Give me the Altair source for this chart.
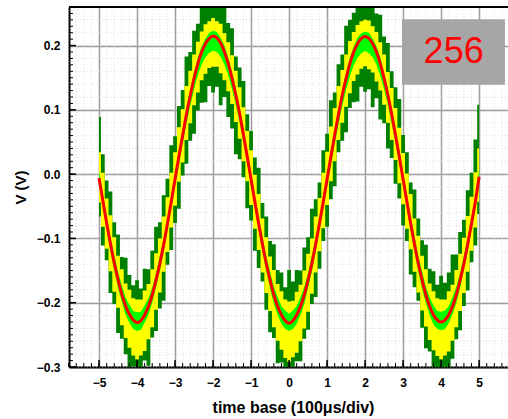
import altair as alt
import pandas as pd

# time axis (divisions), sampled every 0.1 div
TIME = [-5.0, -4.9, -4.8, -4.7, -4.6, -4.5, -4.4, -4.3, -4.2, -4.1,
        -4.0, -3.9, -3.8, -3.7, -3.6, -3.5, -3.4, -3.3, -3.2, -3.1,
        -3.0, -2.9, -2.8, -2.7, -2.6, -2.5, -2.4, -2.3, -2.2, -2.1,
        -2.0, -1.9, -1.8, -1.7, -1.6, -1.5, -1.4, -1.3, -1.2, -1.1,
        -1.0, -0.9, -0.8, -0.7, -0.6, -0.5, -0.4, -0.3, -0.2, -0.1,
        0.0, 0.1, 0.2, 0.3, 0.4, 0.5, 0.6, 0.7, 0.8, 0.9,
        1.0, 1.1, 1.2, 1.3, 1.4, 1.5, 1.6, 1.7, 1.8, 1.9,
        2.0, 2.1, 2.2, 2.3, 2.4, 2.5, 2.6, 2.7, 2.8, 2.9,
        3.0, 3.1, 3.2, 3.3, 3.4, 3.5, 3.6, 3.7, 3.8, 3.9,
        4.0, 4.1, 4.2, 4.3, 4.4, 4.5, 4.6, 4.7, 4.8, 4.9,
        5.0]

# averaged trace (red), V
CENTER = [-0.006, -0.041, -0.076, -0.108, -0.138, -0.164, -0.187, -0.205, -0.218, -0.227,
          -0.231, -0.228, -0.219, -0.206, -0.188, -0.165, -0.139, -0.110, -0.077, -0.043,
          -0.008, 0.027, 0.060, 0.093, 0.122, 0.149, 0.172, 0.190, 0.203, 0.211,
          0.215, 0.212, 0.204, 0.190, 0.172, 0.149, 0.123, 0.094, 0.061, 0.027,
          -0.008, -0.043, -0.077, -0.109, -0.139, -0.165, -0.188, -0.206, -0.219, -0.228,
          -0.232, -0.228, -0.219, -0.206, -0.188, -0.165, -0.139, -0.109, -0.077, -0.043,
          -0.008, 0.027, 0.061, 0.093, 0.123, 0.149, 0.172, 0.190, 0.203, 0.211,
          0.214, 0.211, 0.203, 0.190, 0.172, 0.149, 0.123, 0.093, 0.061, 0.027,
          -0.008, -0.043, -0.077, -0.109, -0.139, -0.165, -0.188, -0.206, -0.219, -0.227,
          -0.230, -0.227, -0.219, -0.206, -0.188, -0.165, -0.139, -0.109, -0.077, -0.043,
          -0.004]

# envelope widths read relative to the red trace (V)
GREEN_UP = [0.011, 0.010, 0.012, 0.011, 0.013, 0.012, 0.014, 0.013, 0.015, 0.014,
            0.016, 0.014, 0.015, 0.013, 0.012, 0.011, 0.012, 0.010, 0.011, 0.010,
            0.011, 0.010, 0.009, 0.011, 0.010, 0.009, 0.010, 0.009, 0.008, 0.009,
            0.008, 0.009, 0.008, 0.010, 0.009, 0.010, 0.011, 0.010, 0.011, 0.010,
            0.012, 0.011, 0.012, 0.013, 0.012, 0.014, 0.013, 0.015, 0.014, 0.016,
            0.015, 0.016, 0.014, 0.015, 0.013, 0.012, 0.013, 0.011, 0.012, 0.010,
            0.011, 0.010, 0.011, 0.009, 0.010, 0.009, 0.010, 0.008, 0.009, 0.008,
            0.008, 0.009, 0.008, 0.009, 0.010, 0.009, 0.011, 0.010, 0.011, 0.012,
            0.011, 0.012, 0.011, 0.013, 0.012, 0.014, 0.013, 0.014, 0.015, 0.014,
            0.016, 0.015, 0.014, 0.015, 0.013, 0.012, 0.013, 0.011, 0.012, 0.010,
            0.011]
GREEN_DN = [0.011, 0.012, 0.011, 0.013, 0.012, 0.013, 0.012, 0.014, 0.013, 0.014,
            0.013, 0.014, 0.012, 0.013, 0.012, 0.011, 0.012, 0.011, 0.012, 0.013,
            0.012, 0.014, 0.013, 0.015, 0.016, 0.017, 0.018, 0.020, 0.021, 0.022,
            0.023, 0.022, 0.021, 0.020, 0.018, 0.017, 0.016, 0.014, 0.013, 0.012,
            0.012, 0.011, 0.012, 0.013, 0.012, 0.013, 0.014, 0.013, 0.014, 0.013,
            0.012, 0.013, 0.014, 0.013, 0.014, 0.012, 0.013, 0.012, 0.011, 0.012,
            0.013, 0.014, 0.015, 0.016, 0.017, 0.018, 0.020, 0.021, 0.022, 0.023,
            0.022, 0.023, 0.021, 0.020, 0.019, 0.017, 0.016, 0.015, 0.013, 0.012,
            0.011, 0.012, 0.013, 0.012, 0.013, 0.014, 0.013, 0.014, 0.015, 0.014,
            0.013, 0.014, 0.013, 0.012, 0.013, 0.012, 0.011, 0.012, 0.011, 0.012,
            0.011]
YELLOW_UP = [0.040, 0.043, 0.038, 0.044, 0.040, 0.037, 0.039, 0.035, 0.038, 0.034,
             0.036, 0.033, 0.038, 0.035, 0.040, 0.042, 0.039, 0.044, 0.041, 0.045,
             0.042, 0.046, 0.041, 0.044, 0.039, 0.037, 0.034, 0.032, 0.030, 0.027,
             0.028, 0.026, 0.030, 0.029, 0.033, 0.036, 0.038, 0.041, 0.043, 0.040,
             0.045, 0.042, 0.046, 0.040, 0.041, 0.037, 0.039, 0.035, 0.037, 0.033,
             0.034, 0.031, 0.036, 0.034, 0.038, 0.041, 0.039, 0.043, 0.040, 0.045,
             0.043, 0.047, 0.042, 0.044, 0.039, 0.037, 0.035, 0.031, 0.029, 0.027,
             0.026, 0.028, 0.027, 0.031, 0.033, 0.037, 0.036, 0.041, 0.042, 0.045,
             0.041, 0.044, 0.046, 0.040, 0.043, 0.038, 0.040, 0.036, 0.037, 0.034,
             0.035, 0.032, 0.037, 0.034, 0.039, 0.041, 0.040, 0.044, 0.042, 0.046,
             0.044]
YELLOW_DN = [0.038, 0.041, 0.040, 0.043, 0.045, 0.044, 0.048, 0.050, 0.052, 0.055,
             0.057, 0.054, 0.056, 0.051, 0.050, 0.046, 0.045, 0.042, 0.044, 0.040,
             0.041, 0.039, 0.042, 0.040, 0.043, 0.042, 0.045, 0.044, 0.047, 0.046,
             0.048, 0.045, 0.047, 0.044, 0.043, 0.040, 0.042, 0.039, 0.041, 0.038,
             0.040, 0.042, 0.041, 0.044, 0.046, 0.048, 0.050, 0.053, 0.054, 0.058,
             0.060, 0.057, 0.059, 0.054, 0.052, 0.049, 0.047, 0.044, 0.043, 0.041,
             0.040, 0.038, 0.041, 0.040, 0.043, 0.044, 0.046, 0.045, 0.048, 0.047,
             0.046, 0.048, 0.045, 0.046, 0.042, 0.041, 0.043, 0.040, 0.039, 0.041,
             0.039, 0.042, 0.040, 0.043, 0.045, 0.047, 0.049, 0.052, 0.055, 0.056,
             0.058, 0.055, 0.057, 0.053, 0.050, 0.048, 0.046, 0.043, 0.042, 0.040,
             0.039]
NOISE_UP = [0.095, 0.072, 0.066, 0.081, 0.063, 0.070, 0.058, 0.075, 0.061, 0.054,
            0.066, 0.050, 0.072, 0.058, 0.069, 0.083, 0.064, 0.077, 0.070, 0.088,
            0.067, 0.079, 0.071, 0.090, 0.068, 0.074, 0.062, 0.070, 0.058, 0.064,
            0.060, 0.066, 0.055, 0.071, 0.063, 0.078, 0.060, 0.072, 0.084, 0.066,
            0.075, 0.069, 0.087, 0.064, 0.073, 0.061, 0.079, 0.057, 0.066, 0.052,
            0.083, 0.061, 0.070, 0.056, 0.074, 0.067, 0.085, 0.070, 0.064, 0.080,
            0.071, 0.088, 0.066, 0.078, 0.063, 0.082, 0.068, 0.061, 0.073, 0.058,
            0.062, 0.057, 0.069, 0.060, 0.076, 0.065, 0.081, 0.067, 0.074, 0.090,
            0.069, 0.077, 0.064, 0.085, 0.070, 0.062, 0.078, 0.059, 0.068, 0.055,
            0.072, 0.058, 0.066, 0.081, 0.063, 0.075, 0.068, 0.084, 0.079, 0.097,
            0.112]
NOISE_DN = [0.060, 0.070, 0.058, 0.077, 0.064, 0.083, 0.069, 0.075, 0.090, 0.072,
            0.080, 0.085, 0.071, 0.092, 0.066, 0.079, 0.070, 0.087, 0.064, 0.075,
            0.068, 0.081, 0.062, 0.077, 0.070, 0.086, 0.073, 0.079, 0.091, 0.074,
            0.088, 0.076, 0.097, 0.070, 0.083, 0.078, 0.092, 0.071, 0.066, 0.080,
            0.064, 0.076, 0.069, 0.058, 0.072, 0.081, 0.067, 0.088, 0.074, 0.083,
            0.079, 0.090, 0.072, 0.085, 0.068, 0.077, 0.063, 0.082, 0.070, 0.061,
            0.074, 0.066, 0.080, 0.059, 0.071, 0.084, 0.069, 0.078, 0.090, 0.075,
            0.086, 0.079, 0.099, 0.072, 0.087, 0.070, 0.083, 0.068, 0.076, 0.065,
            0.072, 0.061, 0.079, 0.067, 0.058, 0.074, 0.083, 0.070, 0.088, 0.077,
            0.085, 0.073, 0.090, 0.081, 0.069, 0.078, 0.066, 0.072, 0.060, 0.068,
            0.058]

X_TICKS = [-5, -4, -3, -2, -1, 0, 1, 2, 3, 4, 5]
Y_TICKS = [-0.3, -0.2, -0.1, 0.0, 0.1, 0.2]

LABEL_TEXT = ["256"]
LABEL_BOX = {"x0": [2.97], "x1": [5.68], "y0": [0.139], "y1": [0.241],
             "tx": [4.33], "ty": [0.19], "t": LABEL_TEXT}

df = pd.DataFrame({"x": TIME, "c": CENTER})
df["n_hi"] = df["c"] + pd.Series(NOISE_UP)
df["n_lo"] = df["c"] - pd.Series(NOISE_DN)
df["y_hi"] = df["c"] + pd.Series(YELLOW_UP)
df["y_lo"] = df["c"] - pd.Series(YELLOW_DN)
df["g_hi"] = df["c"] + pd.Series(GREEN_UP)
df["g_lo"] = df["c"] - pd.Series(GREEN_DN)
lab = pd.DataFrame(LABEL_BOX)

W, H = 439, 360
FONT = "Liberation Sans"

xs = alt.Scale(domain=[-5.79, 5.76], nice=False, zero=False)
ys = alt.Scale(domain=[-0.3, 0.26], nice=False, zero=False)
xaxis = alt.Axis(values=X_TICKS, format="d", title="time base (100μs/div)",
                 labelPadding=10, titleX=224, titleY=45, titleBaseline="alphabetic",
                 titleFontSize=16)
yaxis = alt.Axis(values=Y_TICKS, format=".1f", title="V (V)",
                 labelPadding=9, titleX=-44, titleY=180, titleBaseline="alphabetic",
                 titleAngle=-90, titleFontSize=15)


def X(f):
    return alt.X(f, type="quantitative", scale=xs, axis=xaxis)


def Y(f):
    return alt.Y(f, type="quantitative", scale=ys, axis=yaxis)


base = alt.Chart(df)

minor_v = alt.Chart(alt.sequence(-5.8, 5.8, 0.2, as_="v")).mark_rule(
    color="#cccccc", strokeDash=[1, 2], strokeWidth=1, opacity=0.6
).encode(x=X("v"))
minor_h = alt.Chart(alt.sequence(-0.3, 0.26, 0.02, as_="v")).mark_rule(
    color="#cccccc", strokeDash=[1, 2], strokeWidth=1, opacity=0.6
).encode(y=Y("v"))

noise = base.mark_area(color="#008000", clip=True, interpolate="step").encode(
    x=X("x"), y=Y("n_lo"), y2="n_hi")
yellow = base.mark_area(color="#FFFF00", clip=True, interpolate="step").encode(
    x=X("x"), y=Y("y_lo"), y2="y_hi")
green = base.mark_area(color="#00FF00", clip=True).encode(
    x=X("x"), y=Y("g_lo"), y2="g_hi")
red = base.mark_line(color="#FF0000", strokeWidth=3, clip=True,
                     interpolate="monotone").encode(x=X("x"), y=Y("c"))

xt_minor = alt.Chart(alt.sequence(-5.8, 5.8, 0.2, as_="v")).mark_rule(
    color="black", strokeWidth=1).encode(x=X("v"), y=alt.value(H), y2=alt.value(H - 4))
xt_major = alt.Chart(alt.sequence(-5, 5.5, 1, as_="v")).mark_rule(
    color="black", strokeWidth=1.5).encode(x=X("v"), y=alt.value(H), y2=alt.value(H - 7))
yt_minor = alt.Chart(alt.sequence(-0.3, 0.265, 0.01, as_="v")).mark_rule(
    color="black", strokeWidth=1).encode(y=Y("v"), x=alt.value(0), x2=alt.value(4))
yt_major = alt.Chart(alt.sequence(-0.3, 0.25, 0.1, as_="v")).mark_rule(
    color="black", strokeWidth=1.5).encode(y=Y("v"), x=alt.value(0), x2=alt.value(7))
top_line = alt.Chart(lab).mark_rule(color="black", strokeWidth=2).encode(
    y=alt.value(0), x=alt.value(0), x2=alt.value(W))

box = alt.Chart(lab).mark_rect(color="#A6A6A6").encode(
    x=X("x0"), x2="x1", y=Y("y0"), y2="y1")
txt = alt.Chart(lab).mark_text(color="#FF0000", fontSize=36, font=FONT,
                               align="center", baseline="middle").encode(
    x=X("tx"), y=Y("ty"), text="t:N")

chart = alt.layer(
    minor_v, minor_h, noise, yellow, green, red,
    xt_minor, xt_major, yt_minor, yt_major, top_line, box, txt
).properties(
    width=W, height=H,
    autosize=alt.AutoSizeParams(type="none"),
    padding={"left": 69, "top": 7, "right": 0, "bottom": 52},
).configure_view(
    stroke=None
).configure_axis(
    labelFont=FONT, labelFontSize=12, labelFontWeight="bold", labelColor="black",
    titleFont=FONT, titleFontWeight="bold", titleColor="black",
    domainColor="black", domainWidth=2, ticks=False,
    grid=True, gridColor="#9a9a9a", gridWidth=1.5
)

chart.save("out.html", embed_options={"renderer": "svg", "actions": False})
